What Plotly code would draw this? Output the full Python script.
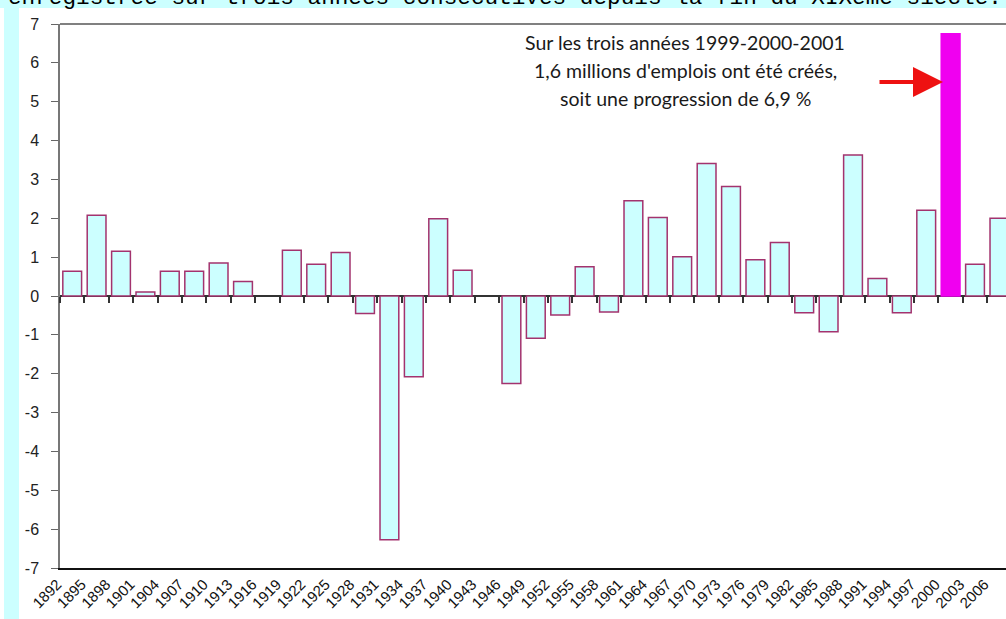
import plotly.graph_objects as go

# ---- data ----
years = ["1892", "1895", "1898", "1901", "1904", "1907", "1910", "1913", "1916", "1919",
         "1922", "1925", "1928", "1931", "1934", "1937", "1940", "1943", "1946", "1949",
         "1952", "1955", "1958", "1961", "1964", "1967", "1970", "1973", "1976", "1979",
         "1982", "1985", "1988", "1991", "1994", "1997", "2000", "2003", "2006"]
values = [0.64, 2.08, 1.15, 0.10, 0.64, 0.64, 0.85, 0.37, None, 1.18,
          0.82, 1.12, -0.45, -6.27, -2.08, 1.99, 0.66, None, -2.25, -1.09,
          -0.49, 0.75, -0.41, 2.45, 2.02, 1.01, 3.41, 2.82, 0.93, 1.38,
          -0.43, -0.92, 3.63, 0.45, -0.43, 2.21, 6.75, 0.82, 2.00]
highlight_year = "2000"
y_ticks = list(range(-7, 8))
title_text = "enregistrée sur trois années consécutives depuis la fin du XIXème siècle."
note_lines = ["Sur les trois années 1999-2000-2001",
              "1,6 millions d'emplois ont été créés,",
              "soit une progression de 6,9 %"]

# ---- style ----
W, H = 1006, 619
ML, MR, MT, MB = 60, 0, 24, 51
PW, PH = W - ML - MR, H - MT - MB
CYAN = "#CCFFFF"
OUTLINE = "#A3336E"
MAGENTA = "#F000F0"


def px_x(px):
    return (px - ML) / PW


def px_y(py):
    return (H - MB - py) / PH


fill_colors = [MAGENTA if y == highlight_year else CYAN for y in years]
line_colors = [MAGENTA if y == highlight_year else OUTLINE for y in years]

fig = go.Figure()
fig.add_trace(go.Bar(
    x=years, y=values,
    marker=dict(color=fill_colors, line=dict(color=line_colors, width=1.5)),
    hoverinfo="x+y", showlegend=False,
))
# invisible twin trace to carry the tick marks on the zero line
fig.add_trace(go.Bar(
    x=years, y=values, xaxis="x2", yaxis="y",
    marker=dict(color="rgba(0,0,0,0)", line=dict(width=0)),
    hoverinfo="skip", showlegend=False,
))

xr = [-0.5, 38.27]
fig.update_layout(
    width=W, height=H, autosize=False,
    margin=dict(l=ML, r=MR, t=MT, b=MB, pad=0),
    paper_bgcolor="white", plot_bgcolor="white",
    bargap=0.23,
    font=dict(family="Liberation Sans", color="#111"),
    xaxis=dict(
        type="category", range=xr, showgrid=False, zeroline=False,
        showline=True, linecolor="#111", linewidth=1.5, automargin=False,
        ticks="", tickangle=-45, tickfont=dict(size=15, color="#111"),
        ticklabelshift=-15,
    ),
    xaxis2=dict(
        type="category", range=xr, overlaying="x", anchor="free", position=0.5,
        showgrid=False, zeroline=False, showline=False, showticklabels=False,
        ticks="outside", tickson="boundaries", ticklen=6, tickwidth=1.5, tickcolor="#333",
    ),
    yaxis=dict(
        range=[-7, 7], tickmode="array", tickvals=y_ticks, ticktext=[str(v) for v in y_ticks],
        showgrid=False, zeroline=True, zerolinecolor="#333", zerolinewidth=1.5,
        showline=True, linecolor="#777", linewidth=1.5, automargin=False,
        ticks="outside", ticklen=7, tickwidth=1, tickcolor="#666",
        tickfont=dict(size=16, color="#222"), ticklabelstandoff=9,
    ),
    shapes=[
        dict(type="rect", xref="paper", yref="paper", x0=px_x(0), x1=px_x(W),
             y0=px_y(8), y1=px_y(0), fillcolor=CYAN, line=dict(width=0), layer="below"),
        dict(type="rect", xref="paper", yref="paper", x0=px_x(4), x1=px_x(19),
             y0=px_y(H), y1=px_y(0), fillcolor=CYAN, line=dict(width=0), layer="below"),
        dict(type="line", xref="paper", yref="paper", x0=0, x1=1, y0=1, y1=1,
             line=dict(color="#808080", width=2)),
    ],
)

annotations = [
    dict(text=title_text, xref="paper", yref="paper", x=px_x(7), y=px_y(12.5),
         xanchor="left", yanchor="bottom", showarrow=False, borderpad=0,
         font=dict(family="Liberation Mono", size=22.7, color="#000")),
]
for i, (line, cy) in enumerate(zip(note_lines, [42, 70.7, 99])):
    annotations.append(dict(text=line, xref="paper", yref="paper", x=px_x(685), y=px_y(cy),
                            xanchor="center", yanchor="middle", showarrow=False,
                            font=dict(family="Lato", size=19.5, color="#1a1a1a")))
annotations.append(dict(text="", xref="paper", yref="paper", x=px_x(943), y=px_y(82),
                        ax=-65, ay=0, showarrow=True, arrowhead=2, arrowsize=1.5,
                        arrowwidth=4, arrowcolor="#EE1111", standoff=0))
fig.update_layout(annotations=annotations)

fig.write_html("out.html", config={"displayModeBar": False},
               post_script="document.body.style.margin='0px';")
